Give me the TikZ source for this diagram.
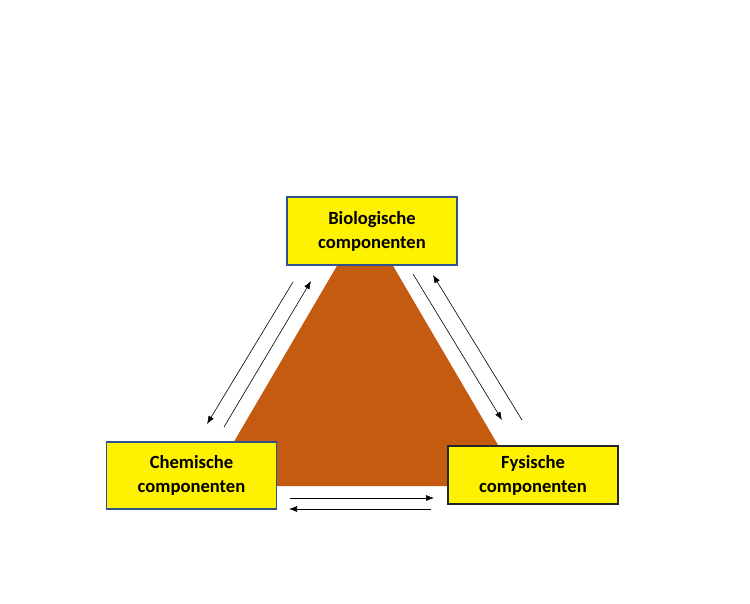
\documentclass[tikz,border=0pt]{standalone}
\usepackage{fontspec}
\setmainfont{Carlito}
\usepackage{tikz}
\usepackage{xcolor}
\usetikzlibrary{arrows.meta}
\definecolor{rust}{HTML}{C55A11}
\definecolor{boxblue}{HTML}{2F528F}
\tikzset{
    component-box/.style = {draw=boxblue, fill=yellow, line width=1.2pt, rectangle, minimum width=170pt, inner sep=0pt, align=center, font=\fontsize{18.6}{24}\selectfont\bfseries},
    flow-arrow/.style = {draw=black, line width=0.6pt, -{Latex[length=8pt,width=6pt]}},
}
\begin{document}
\begin{tikzpicture}[x=1pt,y=-1pt]
\useasboundingbox (0,0) rectangle (750,604);
\fill[rust] (208,486) -- (365,218) -- (522,486) -- cycle;
\node [component-box, minimum height=68pt] (bio) at (372,231) {Biologische\\componenten};
\node [component-box, minimum height=67pt] (chem) at (191.5,475.5) {Chemische\\componenten};
\node [component-box, draw=black!85, minimum height=58pt] (fys) at (533,475) {Fysische\\componenten};
% arrows between the components
\coordinate (bc-a) at (293,282); \coordinate (bc-b) at (207,424);
\coordinate (cb-a) at (224,427); \coordinate (cb-b) at (311,281);
\coordinate (bf-a) at (413,274); \coordinate (bf-b) at (502,420);
\coordinate (fb-a) at (522,420); \coordinate (fb-b) at (433,275);
\coordinate (cf-a) at (290,498); \coordinate (cf-b) at (434,498);
\coordinate (fc-a) at (431,509); \coordinate (fc-b) at (289,509);
\draw [flow-arrow] (bc-a) -- (bc-b);
\draw [flow-arrow] (cb-a) -- (cb-b);
\draw [flow-arrow] (bf-a) -- (bf-b);
\draw [flow-arrow] (fb-a) -- (fb-b);
\draw [flow-arrow] (cf-a) -- (cf-b);
\draw [flow-arrow] (fc-a) -- (fc-b);
\end{tikzpicture}
\end{document}
